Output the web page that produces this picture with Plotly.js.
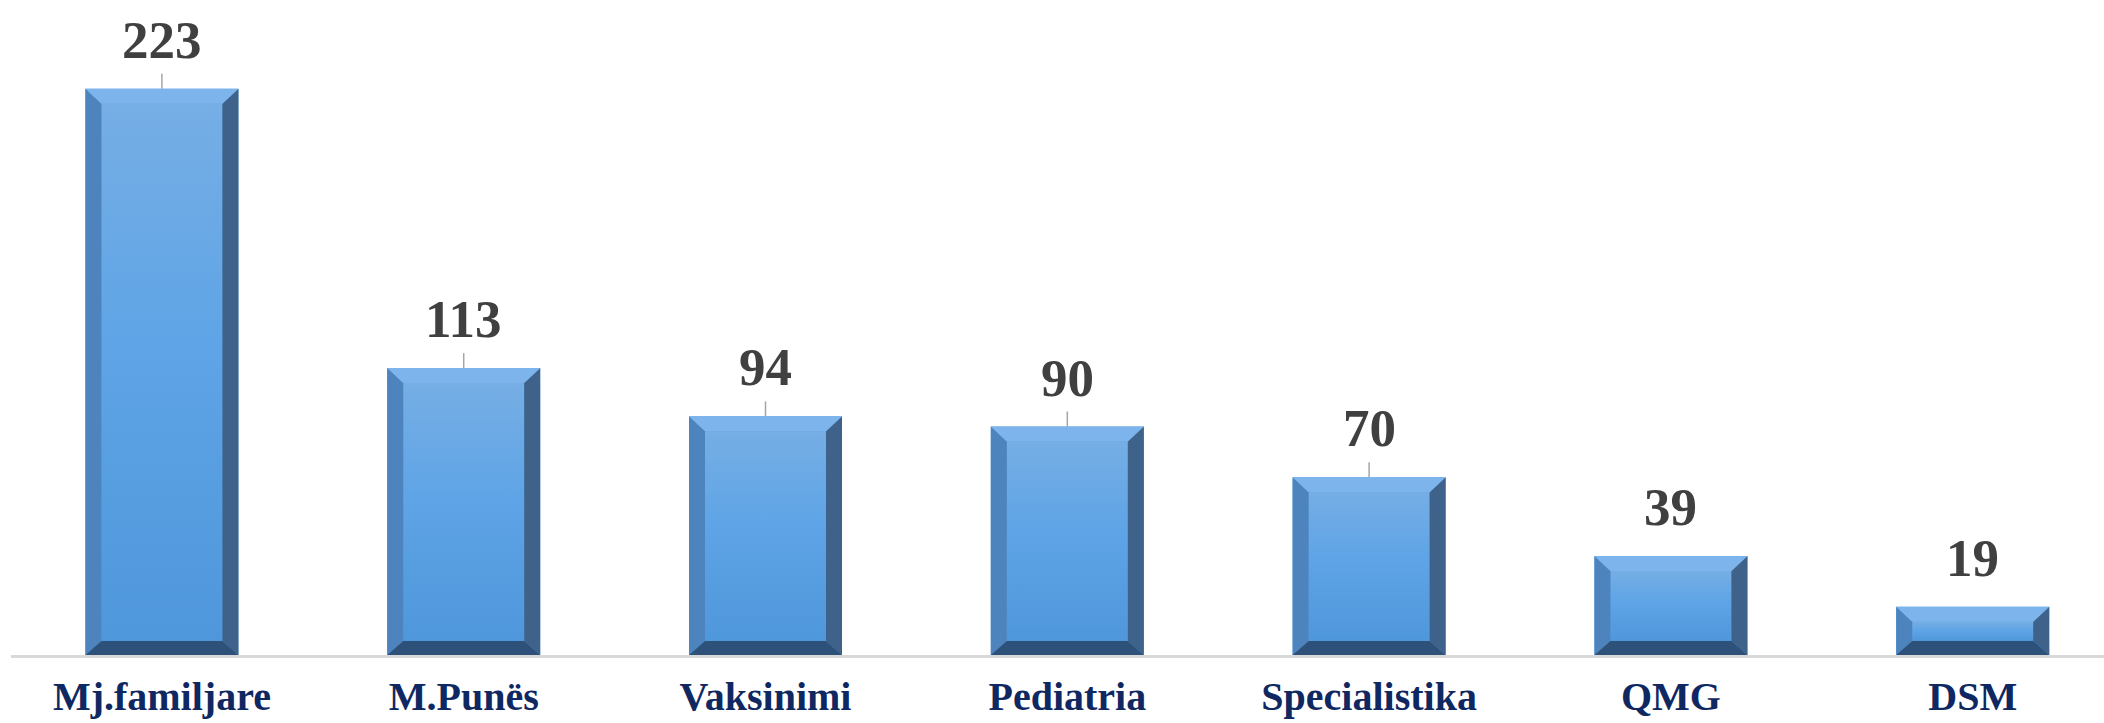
<!DOCTYPE html>
<html>
<head>
<meta charset="utf-8">
<script src="https://cdn.plot.ly/plotly-3.0.1.min.js"></script>
<style>
  html, body { margin: 0; padding: 0; background: #ffffff; }
  #chart { width: 2104px; height: 723px; }
</style>
</head>
<body>
<div id="chart"></div>
<script>
// Categories and counts
const categories = ["Mj.familjare", "M.Punës", "Vaksinimi", "Pediatria", "Specialistika", "QMG", "DSM"];
const counts = [223, 113, 94, 90, 70, 39, 19];

// Layout constants
const W = 2104, H = 723;
const margin = { l: 11, r: 0, t: 0, b: 68 };
const xRange = [-0.5, 6.435];
const yRange = [0, 258];
const barWidth = 0.507;

// pixel -> data conversion, so bevels are a fixed size in pixels
const pxX = (W - margin.l - margin.r) / (xRange[1] - xRange[0]);
const pxY = (H - margin.t - margin.b) / (yRange[1] - yRange[0]);
const bevX = 16 / pxX;
const bevTop = 15 / pxY;
const bevBot = 14 / pxY;
const leaderLen = 15 / pxY;

const xIdx = categories.map((c, i) => i);

// Bevel colours
const faceColor = "#5aa0e2";
const topColor = "#7cb4eb";
const leftColor = "#4d84bd";
const rightColor = "#3e6289";
const bottomColor = "#2d5178";

function poly(pts) {
  return "M" + pts.map(p => p[0] + "," + p[1]).join(" L") + " Z";
}

const shapes = [];
counts.forEach((v, i) => {
  const L = i - barWidth / 2, R = i + barWidth / 2, T = v, B = 0;
  const faces = [
    [leftColor, [[L, B], [L, T], [L + bevX, T - bevTop], [L + bevX, B + bevBot]]],
    [rightColor, [[R, B], [R, T], [R - bevX, T - bevTop], [R - bevX, B + bevBot]]],
    [topColor, [[L, T], [R, T], [R - bevX, T - bevTop], [L + bevX, T - bevTop]]],
    [bottomColor, [[L, B], [R, B], [R - bevX, B + bevBot], [L + bevX, B + bevBot]]]
  ];
  faces.forEach(f => {
    shapes.push({
      type: "path", xref: "x", yref: "y", layer: "above",
      path: poly(f[1]), fillcolor: f[0], line: { width: 0 }
    });
  });
  // leader line from label to bar (Excel only shows it on taller bars)
  if (v >= 50) {
    shapes.push({
      type: "line", xref: "x", yref: "y",
      x0: i, x1: i, y0: v, y1: v + leaderLen,
      line: { color: "#a6a6a6", width: 1.5 }
    });
  }
});

const annotations = counts.map((v, i) => ({
  x: i, y: v, xref: "x", yref: "y",
  text: String(v),
  showarrow: false,
  yanchor: "bottom",
  yshift: 18,
  font: { family: "Liberation Serif", size: 53, color: "#404040", weight: "bold" }
}));

const bars = {
  type: "bar",
  x: xIdx,
  y: counts,
  width: barWidth,
  marker: { color: faceColor, line: { width: 0 } },
  hoverinfo: "skip"
};

// inner face of each bar with a light-to-blue vertical gradient
const faceTraces = counts.map((v, i) => {
  const L = i - barWidth / 2 + bevX, R = i + barWidth / 2 - bevX;
  const b = bevBot, t = v - bevTop;
  return {
    type: "scatter",
    mode: "lines",
    x: [L, R, R, L, L],
    y: [b, b, t, t, b],
    fill: "toself",
    line: { width: 0 },
    fillcolor: faceColor,
    fillgradient: {
      type: "vertical",
      colorscale: [[0, "#4f97db"], [0.55, "#5ea4e6"], [1, "#76aee5"]]
    },
    hoverinfo: "skip"
  };
});

const layout = {
  width: W,
  height: H,
  margin: margin,
  paper_bgcolor: "#ffffff",
  plot_bgcolor: "#ffffff",
  showlegend: false,
  xaxis: {
    type: "linear",
    range: xRange,
    tickvals: xIdx,
    ticktext: categories,
    showgrid: false,
    zeroline: false,
    showline: true,
    linecolor: "#d9d9d9",
    linewidth: 3,
    ticks: "",
    ticklabelstandoff: 4,
    tickfont: { family: "Liberation Serif", size: 40, color: "#0f2862", weight: "bold" }
  },
  yaxis: {
    range: yRange,
    visible: false,
    showgrid: false,
    zeroline: false
  },
  shapes: shapes,
  annotations: annotations
};

Plotly.newPlot("chart", [bars].concat(faceTraces), layout, { staticPlot: true, displayModeBar: false });
</script>
</body>
</html>
